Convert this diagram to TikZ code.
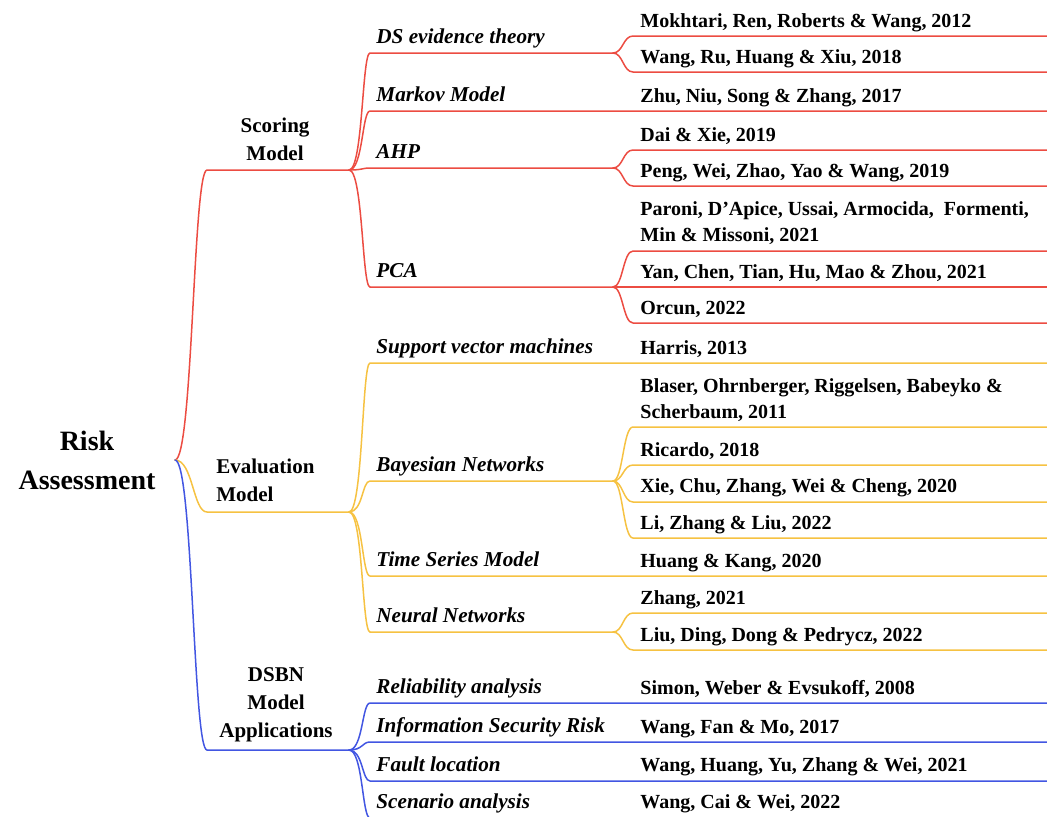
\documentclass[tikz,border=0pt]{standalone}
\usepackage{fontspec}
\setmainfont{Liberation Serif}
\usepackage{xcolor}
\usepackage{tikz}
\usetikzlibrary{calc}
\definecolor{scorebranch}{RGB}{236,76,66}
\definecolor{evalbranch}{RGB}{246,194,66}
\definecolor{dsbnbranch}{RGB}{66,86,226}

\tikzset{
  rootlabel/.style={font=\fontsize{14}{19.5}\selectfont\bfseries, inner sep=0pt, align=center, anchor=base},
  grouplabel/.style={font=\fontsize{10.5}{14}\selectfont\bfseries, inner sep=0pt},
  methodlabel/.style={font=\fontsize{10.6}{13}\selectfont\bfseries\itshape, inner sep=0pt, anchor=base west},
  reflabel/.style={font=\fontsize{10}{13}\selectfont\bfseries, inner sep=0pt, anchor=base west, align=left},
  twig/.style={line width=0.75pt, line cap=round},
  trunk/.style={to path={.. controls +(18,0) and +(-14,0) .. (\tikztotarget)}},
  limb/.style={to path={.. controls +(14,0) and +(-8,0) .. (\tikztotarget)}},
  leaf/.style={to path={.. controls +(10,0) and +(-10,0) .. (\tikztotarget)}},
}

\begin{document}
\begin{tikzpicture}[x=0.5pt,y=-0.5pt]
    \useasboundingbox (0,0) rectangle (1047,816);
    \clip (0,0) rectangle (1047,816);
    \coordinate (edge) at (1047,0);

    % root
    \node[rootlabel] (risk) at (87,489) {Risk\\Assessment};
    \coordinate (risk-j) at (175,460);

    % first level
    \coordinate (sm-a) at (207,170);  \coordinate (sm-j) at (349,170);
    \coordinate (em-a) at (207,512);  \coordinate (em-j) at (349,512);
    \coordinate (da-a) at (207,750);  \coordinate (da-j) at (349,750);
    \node[grouplabel, align=center, anchor=base] (sm) at (275,160) {Scoring\\Model};
    \node[grouplabel, align=left, anchor=base west] (em) at (216,501.5) {Evaluation\\Model};
    \node[grouplabel, align=center, anchor=base] (da) at (276,737) {DSBN\\Model\\Applications};
    \draw[twig,scorebranch] (risk-j) to[trunk] (sm-a) -- (sm-j);
    \draw[twig,evalbranch] (risk-j) to[trunk] (em-a) -- (em-j);
    \draw[twig,dsbnbranch] (risk-j) to[trunk] (da-a) -- (da-j);

    % scoring model
    \coordinate (ds-a) at (370,53);   \coordinate (ds-j) at (613,53);
    \coordinate (mk-a) at (370,111);
    \coordinate (ahp-a) at (370,168); \coordinate (ahp-j) at (613,168);
    \coordinate (pca-a) at (370,287); \coordinate (pca-j) at (613,287);
    \node[methodlabel] (ds) at (376,43) {DS evidence theory};
    \node[methodlabel] (mk) at (376,101) {Markov Model};
    \node[methodlabel] (ahp) at (376,158) {AHP};
    \node[methodlabel] (pca) at (376,277) {PCA};
    \draw[twig,scorebranch] (sm-j) to[limb] (ds-a) -- (ds-j);
    \draw[twig,scorebranch] (sm-j) to[limb] (mk-a) -- (mk-a -| edge);
    \draw[twig,scorebranch] (sm-j) to[limb] (ahp-a) -- (ahp-j);
    \draw[twig,scorebranch] (sm-j) to[limb] (pca-a) -- (pca-j);

    \coordinate (mok-a) at (633,36);
    \coordinate (wru-a) at (633,72);
    \coordinate (dai-a) at (633,150);
    \coordinate (pen-a) at (633,186);
    \coordinate (par-a) at (633,251);
    \coordinate (yan-a) at (633,287);
    \coordinate (orc-a) at (633,323);
    \node[reflabel] (mok) at (640,27) {Mokhtari, Ren, Roberts \& Wang, 2012};
    \node[reflabel] (wru) at (640,63) {Wang, Ru, Huang \& Xiu, 2018};
    \node[reflabel] (zhu) at (640,102) {Zhu, Niu, Song \& Zhang, 2017};
    \node[reflabel] (dai) at (640,141) {Dai \& Xie, 2019};
    \node[reflabel] (pen) at (640,177) {Peng, Wei, Zhao, Yao \& Wang, 2019};
    \node[reflabel] (par) at (640,241) {Paroni, D’Apice, Ussai, Armocida,~ Formenti,\\Min \& Missoni, 2021};
    \node[reflabel] (yan) at (640,278) {Yan, Chen, Tian, Hu, Mao \& Zhou, 2021};
    \node[reflabel] (orc) at (640,314) {Orcun, 2022};
    \draw[twig,scorebranch] (ds-j) to[leaf] (mok-a) -- (mok-a -| edge);
    \draw[twig,scorebranch] (ds-j) to[leaf] (wru-a) -- (wru-a -| edge);
    \draw[twig,scorebranch] (ahp-j) to[leaf] (dai-a) -- (dai-a -| edge);
    \draw[twig,scorebranch] (ahp-j) to[leaf] (pen-a) -- (pen-a -| edge);
    \draw[twig,scorebranch] (pca-j) to[leaf] (par-a) -- (par-a -| edge);
    \draw[twig,scorebranch] (pca-j) to[leaf] (yan-a) -- (yan-a -| edge);
    \draw[twig,scorebranch] (pca-j) to[leaf] (orc-a) -- (orc-a -| edge);

    % evaluation model
    \coordinate (svm-a) at (370,363);
    \coordinate (bn-a) at (370,481);  \coordinate (bn-j) at (613,481);
    \coordinate (ts-a) at (370,576);
    \coordinate (nn-a) at (370,632);  \coordinate (nn-j) at (613,632);
    \node[methodlabel] (svm) at (376,353) {Support vector machines};
    \node[methodlabel] (bn) at (376,471) {Bayesian Networks};
    \node[methodlabel] (ts) at (376,566) {Time Series Model};
    \node[methodlabel] (nn) at (376,622) {Neural Networks};
    \draw[twig,evalbranch] (em-j) to[limb] (svm-a) -- (svm-a -| edge);
    \draw[twig,evalbranch] (em-j) to[limb] (bn-a) -- (bn-j);
    \draw[twig,evalbranch] (em-j) to[limb] (ts-a) -- (ts-a -| edge);
    \draw[twig,evalbranch] (em-j) to[limb] (nn-a) -- (nn-j);

    \coordinate (bla-a) at (633,427);
    \coordinate (ric-a) at (633,465);
    \coordinate (xie-a) at (633,502);
    \coordinate (li-a) at (633,538);
    \coordinate (zha-a) at (633,613);
    \coordinate (liu-a) at (633,650);
    \node[reflabel] (har) at (640,354) {Harris, 2013};
    \node[reflabel] (bla) at (640,418) {Blaser, Ohrnberger, Riggelsen, Babeyko \&\\Scherbaum, 2011};
    \node[reflabel] (ric) at (640,456) {Ricardo, 2018};
    \node[reflabel] (xie) at (640,492) {Xie, Chu, Zhang, Wei \& Cheng, 2020};
    \node[reflabel] (li) at (640,529) {Li, Zhang \& Liu, 2022};
    \node[reflabel] (hka) at (640,567) {Huang \& Kang, 2020};
    \node[reflabel] (zha) at (640,604) {Zhang, 2021};
    \node[reflabel] (liu) at (640,641) {Liu, Ding, Dong \& Pedrycz, 2022};
    \draw[twig,evalbranch] (bn-j) to[leaf] (bla-a) -- (bla-a -| edge);
    \draw[twig,evalbranch] (bn-j) to[leaf] (ric-a) -- (ric-a -| edge);
    \draw[twig,evalbranch] (bn-j) to[leaf] (xie-a) -- (xie-a -| edge);
    \draw[twig,evalbranch] (bn-j) to[leaf] (li-a) -- (li-a -| edge);
    \draw[twig,evalbranch] (nn-j) to[leaf] (zha-a) -- (zha-a -| edge);
    \draw[twig,evalbranch] (nn-j) to[leaf] (liu-a) -- (liu-a -| edge);

    % dsbn applications
    \coordinate (rel-a) at (370,703);
    \coordinate (isr-a) at (370,742);
    \coordinate (flt-a) at (370,781);
    \coordinate (scn-a) at (370,818);
    \node[methodlabel] (rel) at (376,693) {Reliability analysis};
    \node[methodlabel] (isr) at (376,732) {Information Security Risk};
    \node[methodlabel] (flt) at (376,771) {Fault location};
    \node[methodlabel] (scn) at (376,808) {Scenario analysis};
    \node[reflabel] (sim) at (640,694) {Simon, Weber \& Evsukoff, 2008};
    \node[reflabel] (wfm) at (640,733) {Wang, Fan \& Mo, 2017};
    \node[reflabel] (whu) at (640,771) {Wang, Huang, Yu, Zhang \& Wei, 2021};
    \node[reflabel] (wca) at (640,808) {Wang, Cai \& Wei, 2022};
    \draw[twig,dsbnbranch] (da-j) to[limb] (rel-a) -- (rel-a -| edge);
    \draw[twig,dsbnbranch] (da-j) to[limb] (isr-a) -- (isr-a -| edge);
    \draw[twig,dsbnbranch] (da-j) to[limb] (flt-a) -- (flt-a -| edge);
    \draw[twig,dsbnbranch] (da-j) to[limb] (scn-a) -- (scn-a -| edge);
\end{tikzpicture}
\end{document}
